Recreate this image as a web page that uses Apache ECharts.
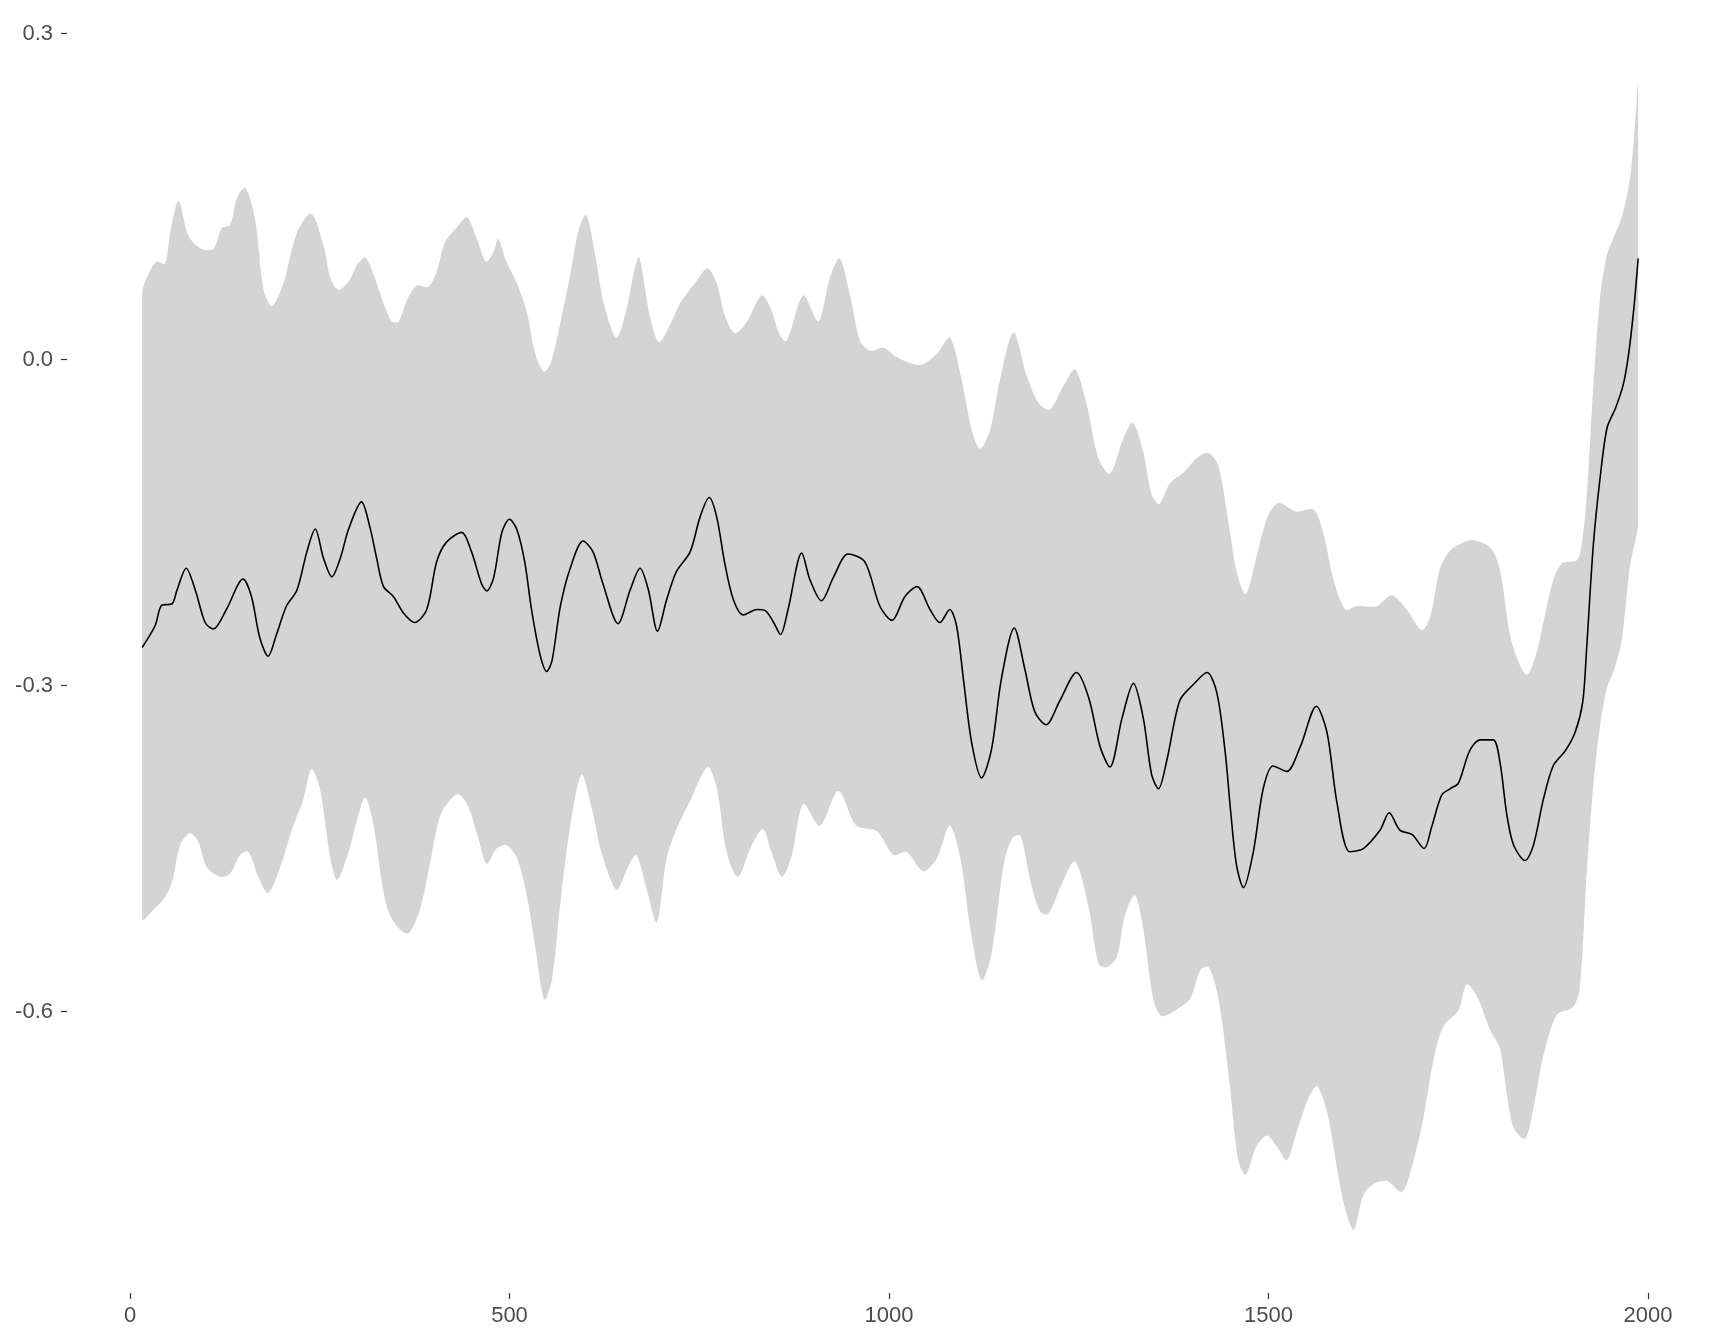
<!DOCTYPE html>
<html>
<head>
<meta charset="utf-8">
<title>reconstruction</title>
<script src="https://cdn.jsdelivr.net/npm/echarts@6/dist/echarts.min.js"></script>
<style>
  html, body { margin: 0; padding: 0; background: #fff; }
  #chart { width: 1728px; height: 1344px; }
</style>
</head>
<body>
<div id="chart"></div>
<script>
// mean curve
var meanYears = [16, 33, 42, 55, 62, 74, 86, 99, 110, 127, 149, 160, 171, 182, 193, 206, 220, 233, 244, 255, 266, 277, 288,
  305, 316, 325, 334, 347, 360, 375, 391, 404, 417, 437, 450, 463, 470, 479, 490, 500, 510, 520, 529, 540, 549, 556, 567, 580,
  597, 610, 623, 643, 659, 672, 683, 695, 707, 720, 738, 751, 763, 773, 784, 795, 808, 826, 837, 848, 857, 867,
  885, 896, 911, 927, 946, 968, 988, 1004, 1021, 1037, 1054, 1067, 1080, 1089, 1098, 1109, 1122, 1135, 1148, 1165,
  1179, 1192, 1207, 1225, 1247, 1263, 1278, 1291, 1307, 1322, 1335, 1346, 1355, 1366, 1383, 1401, 1419, 1432, 1443,
  1450, 1458, 1467, 1480, 1493, 1506, 1524, 1542, 1563, 1577, 1590, 1607, 1625, 1647, 1659, 1673, 1689, 1705, 1715, 1728,
  1739, 1750, 1765, 1779, 1796, 1805, 1814, 1823, 1838, 1849, 1862, 1875, 1891, 1904, 1914, 1919, 1928, 1937, 1946,
  1957, 1967, 1974, 1981, 1987]
var meanVals = [-0.265, -0.245, -0.226, -0.225, -0.212, -0.192, -0.212, -0.242, -0.248, -0.230, -0.202, -0.218, -0.256, -0.273, -0.253, -0.227, -0.212, -0.177, -0.156, -0.183, -0.200, -0.183, -0.156,
  -0.131, -0.154, -0.183, -0.209, -0.218, -0.233, -0.242, -0.230, -0.186, -0.168, -0.159, -0.177, -0.206, -0.213, -0.201, -0.159, -0.147, -0.157, -0.186, -0.230, -0.271, -0.287, -0.277, -0.227, -0.192,
  -0.167, -0.177, -0.206, -0.243, -0.212, -0.192, -0.212, -0.250, -0.221, -0.195, -0.177, -0.145, -0.127, -0.145, -0.189, -0.221, -0.235, -0.230, -0.231, -0.242, -0.253, -0.230,
  -0.178, -0.203, -0.222, -0.200, -0.179, -0.186, -0.227, -0.240, -0.218, -0.209, -0.230, -0.242, -0.230, -0.245, -0.294, -0.353, -0.385, -0.359, -0.294, -0.247,
  -0.285, -0.324, -0.336, -0.314, -0.288, -0.311, -0.356, -0.375, -0.330, -0.298, -0.330, -0.382, -0.395, -0.369, -0.314, -0.299, -0.288, -0.307, -0.362,
  -0.415, -0.466, -0.486, -0.453, -0.395, -0.374, -0.379, -0.356, -0.319, -0.343, -0.407, -0.453, -0.450, -0.433, -0.417, -0.433, -0.437, -0.450, -0.430, -0.401,
  -0.395, -0.390, -0.360, -0.350, -0.350, -0.371, -0.419, -0.447, -0.461, -0.447, -0.405, -0.374, -0.360, -0.343, -0.315, -0.267, -0.170, -0.108, -0.063,
  -0.045, -0.024, 0.003, 0.045, 0.093]

// upper edge of the band
var upperYears = [16, 26, 35, 46, 53, 64, 77, 94, 110, 121, 132, 141, 152, 165, 176, 187, 202, 220, 239, 255, 264, 275, 290,
  299, 310, 321, 334, 345, 354, 365, 378, 393, 404, 415, 431, 444, 457, 469, 479, 485, 496, 510, 523, 534, 545, 554, 567, 580,
  591, 601, 613, 624, 641, 654, 665, 671, 685, 697, 711, 725, 744, 761, 773, 784, 797, 812, 832, 843, 856, 865,
  887, 907, 922, 935, 949, 962, 975, 993, 1010, 1041, 1063, 1080, 1094, 1109, 1120, 1133, 1146, 1164,
  1181, 1197, 1212, 1230, 1245, 1260, 1276, 1291, 1309, 1321, 1335, 1346, 1356, 1370, 1388, 1405, 1421, 1434,
  1449, 1458, 1470, 1484, 1498, 1513, 1537, 1559, 1572, 1585, 1601, 1616, 1643, 1662, 1682, 1702, 1713,
  1726, 1739, 1752, 1768, 1792, 1805, 1818, 1831, 1841, 1853, 1866, 1877, 1888, 1906, 1912, 1919, 1928, 1937,
  1946, 1954, 1967, 1978, 1987]
var upperVals = [0.061, 0.081, 0.090, 0.088, 0.117, 0.146, 0.114, 0.102, 0.102, 0.121, 0.124, 0.149, 0.158, 0.128, 0.064, 0.049, 0.070, 0.117, 0.134, 0.105, 0.075, 0.064, 0.074,
  0.087, 0.094, 0.078, 0.052, 0.035, 0.035, 0.055, 0.068, 0.067, 0.081, 0.108, 0.122, 0.131, 0.111, 0.090, 0.099, 0.111, 0.090, 0.070, 0.043, 0.005, -0.011, -0.004, 0.034, 0.078,
  0.119, 0.133, 0.096, 0.052, 0.020, 0.046, 0.084, 0.094, 0.040, 0.016, 0.031, 0.052, 0.070, 0.084, 0.070, 0.040, 0.024, 0.034, 0.059, 0.049, 0.023, 0.017,
  0.059, 0.035, 0.075, 0.093, 0.058, 0.017, 0.008, 0.011, 0.002, -0.005, 0.005, 0.020, -0.013, -0.065, -0.082, -0.065, -0.019, 0.025,
  -0.014, -0.040, -0.046, -0.024, -0.009, -0.040, -0.091, -0.105, -0.072, -0.058, -0.085, -0.124, -0.133, -0.114, -0.104, -0.091, -0.086, -0.098,
  -0.158, -0.195, -0.216, -0.182, -0.146, -0.132, -0.140, -0.138, -0.159, -0.201, -0.230, -0.227, -0.227, -0.217, -0.230, -0.249, -0.237,
  -0.192, -0.176, -0.170, -0.166, -0.173, -0.194, -0.253, -0.281, -0.290, -0.270, -0.229, -0.199, -0.187, -0.185, -0.173, -0.128, -0.024, 0.059,
  0.097, 0.111, 0.135, 0.176, 0.256]

// lower edge of the band
var lowerYears = [16, 31, 44, 55, 66, 79, 90, 101, 119, 132, 145, 156, 169, 182, 198, 215, 228, 239, 250, 264, 273, 288,
  299, 310, 321, 332, 341, 354, 367, 382, 395, 408, 422, 433, 446, 459, 470, 483, 496, 510, 523, 534, 546, 556, 567, 580,
  595, 608, 621, 641, 656, 667, 681, 694, 707, 720, 738, 761, 773, 786, 801, 819, 834, 845, 859, 872,
  887, 909, 933, 957, 984, 1006, 1023, 1045, 1063, 1080, 1094, 1107, 1122, 1135, 1151, 1162,
  1173, 1186, 1199, 1210, 1228, 1245, 1263, 1276, 1287, 1300, 1311, 1324, 1335, 1348, 1359, 1379, 1397, 1410, 1421, 1434,
  1449, 1460, 1470, 1484, 1498, 1511, 1524, 1537, 1553, 1564, 1577, 1590, 1601, 1612, 1625, 1638, 1656, 1676, 1691, 1704, 1717,
  1730, 1750, 1761, 1774, 1792, 1805, 1814, 1823, 1838, 1849, 1862, 1880, 1901, 1910, 1919, 1928, 1937, 1946,
  1954, 1965, 1976, 1987]
var lowerVals = [-0.515, -0.506, -0.497, -0.482, -0.447, -0.436, -0.444, -0.467, -0.476, -0.473, -0.456, -0.453, -0.476, -0.491, -0.467, -0.429, -0.406, -0.377, -0.394, -0.459, -0.479, -0.453,
  -0.424, -0.403, -0.429, -0.482, -0.509, -0.523, -0.528, -0.506, -0.465, -0.421, -0.405, -0.400, -0.412, -0.441, -0.464, -0.450, -0.447, -0.459, -0.494, -0.541, -0.589, -0.570, -0.500, -0.429,
  -0.382, -0.412, -0.453, -0.488, -0.467, -0.456, -0.488, -0.518, -0.459, -0.432, -0.406, -0.375, -0.394, -0.453, -0.476, -0.447, -0.432, -0.453, -0.476, -0.456,
  -0.409, -0.429, -0.397, -0.429, -0.434, -0.456, -0.453, -0.471, -0.459, -0.429, -0.459, -0.523, -0.571, -0.547, -0.465, -0.441,
  -0.438, -0.479, -0.508, -0.510, -0.482, -0.462, -0.504, -0.556, -0.559, -0.550, -0.511, -0.493, -0.524, -0.588, -0.604, -0.598, -0.588, -0.562, -0.559, -0.588,
  -0.668, -0.737, -0.750, -0.724, -0.714, -0.724, -0.737, -0.711, -0.679, -0.669, -0.692, -0.743, -0.782, -0.801, -0.769, -0.759, -0.756, -0.766, -0.737, -0.698, -0.646,
  -0.614, -0.599, -0.575, -0.585, -0.617, -0.634, -0.676, -0.707, -0.717, -0.689, -0.641, -0.603, -0.596, -0.579, -0.475, -0.391, -0.336, -0.302,
  -0.288, -0.260, -0.191, -0.149]

var xTicks = [0, 500, 1000, 1500, 2000]
var yTicks = [-0.6, -0.3, 0, 0.3]

var zip = function (xs, ys) {
  return xs.map(function (x, i) { return [x, ys[i]] })
}

// closed outline: upper edge left->right, then lower edge right->left
var bandPts = zip(upperYears, upperVals).concat(zip(lowerYears, lowerVals).reverse())
var meanPts = zip(meanYears, meanVals)

var chart = echarts.init(document.getElementById('chart'))

var labelStyle = {
  color: '#4D4D4D',
  fontSize: 22,
  fontFamily: 'Liberation Sans, Arial, sans-serif'
}
var tickStyle = { show: true, length: 6, lineStyle: { color: '#333333', width: 1.2 } }

var option = {
  backgroundColor: '#ffffff',
  animation: false,
  grid: { left: 67, right: 15, top: 23, bottom: 51, containLabel: false },
  xAxis: {
    type: 'value',
    min: -83,
    max: 2085.6,
    axisLine: { show: false, onZero: false },
    splitLine: { show: false },
    axisTick: Object.assign({ customValues: xTicks }, tickStyle),
    axisLabel: Object.assign({
      customValues: xTicks,
      margin: 12,
      formatter: function (v) { return String(v) }
    }, labelStyle)
  },
  yAxis: {
    type: 'value',
    min: -0.859,
    max: 0.3097,
    axisLine: { show: false, onZero: false },
    splitLine: { show: false },
    axisTick: Object.assign({ customValues: yTicks }, tickStyle),
    axisLabel: Object.assign({
      customValues: yTicks,
      margin: 14,
      formatter: function (v) { return v.toFixed(1) }
    }, labelStyle)
  },
  series: [
    {
      type: 'custom',
      name: 'band',
      data: bandPts,
      encode: { x: 0, y: 1 },
      silent: true,
      renderItem: function (params, api) {
        if (params.dataIndex !== 0) return null
        var pts = bandPts.map(function (p) { return api.coord(p) })
        var xs = pts.map(function (p) { return p[0] })
        var ys = pts.map(function (p) { return p[1] })
        return {
          type: 'polygon',
          shape: {
            points: pts,
            smooth: 0.3,
            smoothConstraint: [[Math.min.apply(null, xs), Math.min.apply(null, ys)], [Math.max.apply(null, xs), Math.max.apply(null, ys)]]
          },
          style: { fill: '#D4D4D4', stroke: null }
        }
      },
      z: 1
    },
    {
      type: 'line',
      name: 'mean',
      data: meanPts,
      smooth: 0.3,
      showSymbol: false,
      symbol: 'none',
      lineStyle: { color: '#000000', width: 1.6 },
      z: 2
    }
  ]
}
chart.setOption(option)
</script>
</body>
</html>
